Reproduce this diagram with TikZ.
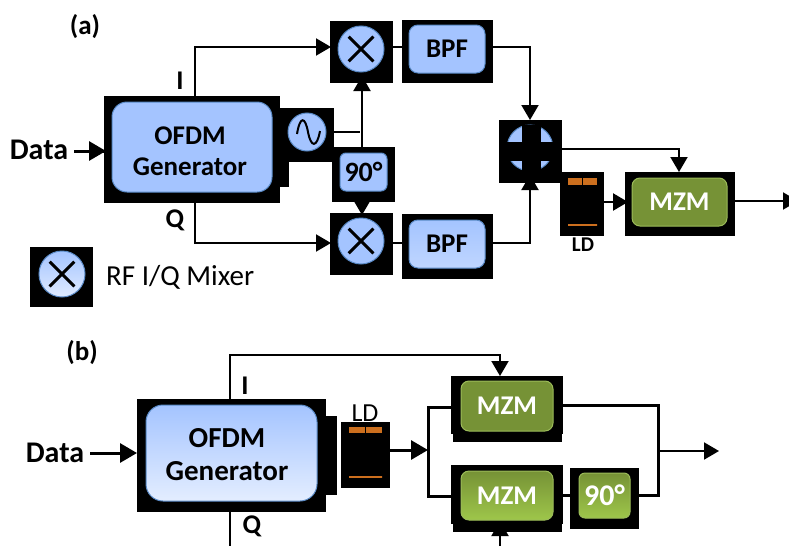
\documentclass[tikz,border=0pt]{standalone}
\usepackage{fontspec}
\setmainfont{Carlito}
\usetikzlibrary{arrows.meta,calc}
\definecolor{bl}{HTML}{A4C4FF}
\definecolor{bledge}{HTML}{5A8AC6}
\definecolor{grn}{HTML}{769236}
\definecolor{grnedge}{HTML}{9BBB59}
\definecolor{grnlt}{HTML}{9EC64A}
\definecolor{org}{HTML}{CC6F1E}
\newcommand{\dn}[2][2pt]{\raisebox{-#1}{#2}}
\tikzset{
  x=1pt,y=-1pt,
  box/.style args={#1,#2,#3,#4}{rectangle,inner sep=0pt,outer sep=0pt,anchor=center,
    at={({(#1+#3)/2},{(#2+#4)/2})},minimum width={(#3-#1)*1pt},minimum height={(#4-#2)*1pt}},
  blk/.style={fill=black,draw=none},
  blue/.style={fill=bl,draw=bledge,line width=1pt,rounded corners=#1},
  blue/.default=9pt,
  green/.style={fill=grn,draw=grnedge,line width=1pt,rounded corners=8pt,text=white},
  circ/.style={circle,inner sep=0pt,outer sep=0pt,minimum size=46pt,fill=bl,draw=bledge,line width=1pt},
  lbl/.style={font=\bfseries\fontsize{27}{31}\selectfont,align=center,inner sep=0pt},
  conn/.style={line width=2pt,draw=black},
  hvy/.style={line width=3pt,draw=black},
  tip/.style={-{Triangle[length=15pt,width=17pt]}},
  bigtip/.style={-{Triangle[length=17pt,width=19pt]}},
  xmark/.style={line width=3pt,shorten >=5.5pt,shorten <=5.5pt},
  orange/.style={fill=org,draw=none},
  oline/.style={draw=org,line width=1.3pt},
}
\begin{document}
\begin{tikzpicture}
\clip (0,0) rectangle (789,546);
% ---- (a)
\node[lbl] (la) at (85,27) {(a)};
\node[lbl,font=\bfseries\fontsize{30}{31}\selectfont] (dataa) at (39,150) {Data};
\node[blk,box={104,96,280,203}] (gena) {};
\node[blk,box={280,108,289,187}] (genax) {};
\node[blue=15pt,box={112,102,272,192}] (genai) {};
\node[lbl] (genat) at (190,151) {OFDM\\Generator};
\node[lbl] (ia) at (180,81) {I};
\node[lbl] (qa) at (175,220) {Q};

\node[blk,box={330,21,393,83}] (m1) {};
\node[circ] (c1) at (361,49) {};
\node[blk,box={330,213,393,275}] (m2) {};
\node[circ] (c2) at (361,241) {};
\node[blk,box={402,20,493,83}] (b1) {};
\node[blue,box={409,25,485,73},lbl] (b1i) {\dn{BPF}};
\node[blk,box={402,214,493,279}] (b2) {};
\node[blue,box={409,220,485,268},lbl,top color=bl,middle color=bl,bottom color=bl!70!white] (b2i) {\dn{BPF}};
\node[blk,box={289,108,334,162}] (osc) {};
\node[circ,minimum size=38pt] (oc) at (307,132) {};
\draw[line width=2pt] (297,134) .. controls (300,116) and (305,116) .. (308,132) .. controls (311,148) and (317,148) .. (320,131);
\node[blk,box={332,147,395,202}] (ph) {};
\node[blue=6pt,box={340,153,387,191},lbl,font=\bfseries\fontsize{28}{31}\selectfont] (phi) {\dn[1pt]{90°}};

\foreach \c in {c1,c2}{
  \draw[xmark] (\c.45) -- (\c.225);
  \draw[xmark] (\c.135) -- (\c.315);
}
% adder
\node[blk,box={499,120,562,183}] (add) {};
\node[circ] (ac) at (530,148) {};
\node[blk,box={522,125,541,183}] (av) {};
\node[blk,box={499,142,562,161}] (ah) {};
% LD a
\node[blk,box={560,172,604,236}] (lda) {};
\node[orange,box={568,178,582,185}] (lda1) {};
\node[orange,box={583,178,597,185}] (lda2) {};
\node[oline,box={568,225,597,225}] (lda3) {};
\node[lbl,font=\bfseries\fontsize{21}{24}\selectfont] (ldat) at (583,245) {LD};
% MZM a
\node[blk,box={625,172,735,236}] (mza) {};
\node[green,box={632,178,727,226},lbl] (mzai) {\dn[1pt]{MZM}};
\coordinate (outa) at (798,201);

% connectors a
\draw[conn,line width=3pt,bigtip] (dataa.east) ++(6,1) -- (gena.west |- 0,151) -- ++(2,0);
\draw[conn,tip] ([xshift=3pt]gena.north) |- ([xshift=1pt,yshift=2pt]m1.west |- c1.east);
\draw[conn,tip] ([xshift=3pt]gena.south) |- ([xshift=1pt,yshift=-2pt]m2.west |- c2.east);
\draw[conn] (m1.east |- 0,47) -- (b1.west |- 0,47);
\draw[conn] (m2.east |- 0,243) -- (b2.west |- 0,243);
\draw[conn] (osc.east |- oc.east) -- ([xshift=-1pt]c1.center |- oc.east);
\draw[conn,tip] (ph.north -| 362,0) -- (362,76);
\draw[conn,tip] (ph.south -| 362,0) -- (362,215);
\draw[conn,tip] (b1.east |- 0,47) -| (add.north -| 530,0);
\draw[conn,tip] (b2.east |- 0,243) -| (530,175);
\draw[conn,tip] (add.east |- 0,149) -| (mza.north -| 679,0);
\draw[conn,line width=2.4pt,tip] (lda.east |- 0,202) -- (mza.west |- 0,202) -- ++(3,0);
\draw[conn,tip] (mza.east |- 0,201) -- (outa);

% legend
\node[blk,box={30,247,93,307}] (leg) {};
\node[circ,top color=bl,middle color=bl!70!white,bottom color=bl!35!white] (legc) at (62,274) {};
\draw[xmark] (legc.45) -- (legc.225);
\draw[xmark] (legc.135) -- (legc.315);
\node[inner sep=0pt,anchor=west,font=\fontsize{29}{31}\selectfont] (legt) at (106,277) {RF I/Q Mixer};

% ---- (b)
\node[lbl] (lb) at (82,353) {(b)};
\node[lbl,font=\bfseries\fontsize{30}{31}\selectfont] (datab) at (55,453) {Data};
\node[blk,box={137,399,326,512}] (genb) {};
\node[blk,box={326,416,337,495}] (genbx) {};
\node[box={146,405,317,501},rounded corners=17pt,draw=bledge,line width=1pt,top color=bl,bottom color=bl!30!white] (genbi) {};
\node[lbl,font=\bfseries\fontsize{29}{33}\selectfont] (genbt) at (227,455) {OFDM\\Generator};
\node[lbl] (ib) at (245,386) {I};
\node[lbl] (qb) at (252,526) {Q};
\node[inner sep=0pt,font=\fontsize{26}{28}\selectfont] (ldbt) at (365,413) {LD};
\node[blk,box={341,422,390,488}] (ldb) {};
\node[orange,box={349,427,365,433}] (ldb1) {};
\node[orange,box={366,427,382,433}] (ldb2) {};
\node[oline,box={349,477,382,477}] (ldb3) {};
\node[blk,box={451,376,563,434}] (mz1) {};
\node[blk,box={453,434,562,442}] (mz1x) {};
\node[green,box={461,381,553,431},lbl] (mz1i) {\dn[3pt]{MZM}};
\node[blk,box={451,465,563,524}] (mz2) {};
\node[blk,box={453,524,562,532}] (mz2x) {};
\node[green,box={461,471,553,520},lbl,top color=grn,bottom color=grnlt] (mz2i) {\dn[3pt]{MZM}};
\node[blk,box={570,468,639,529}] (pb) {};
\node[green,box={579,473,630,518},lbl,rounded corners=6pt,top color=grn,bottom color=grnlt,font=\bfseries\fontsize{30}{31}\selectfont] (pbi) {\dn{90°}};
\coordinate (split) at (428,450);
\coordinate (merge) at (658,451);
\coordinate (outb) at (719,451);
\coordinate (iin) at (500,546);
\coordinate (qout) at (229.5,546);

% connectors b
\draw[hvy,bigtip] (datab.east) ++(6,0) -- (genb.west |- 0,453);
\draw[conn,tip] (229.5,399) |- (500,355) -- (mz1.north -| 500,0);
\draw[conn] (229.5,512) -- (qout);
\draw[conn,tip] (iin) -- (500,521);
\draw[hvy,bigtip] (ldb.east |- 0,450) -- (split);
\draw[hvy] (mz1.west |- 0,407) -| (split) |- (mz2.west |- 0,496);
\draw[hvy] (mz2.east |- 0,495) -- (pb.west |- 0,495);
\draw[hvy] (mz1.east |- 0,405) -| (merge) |- (pb.east |- 0,495);
\draw[conn,tip] (merge) -- (outb);
\end{tikzpicture}
\end{document}
